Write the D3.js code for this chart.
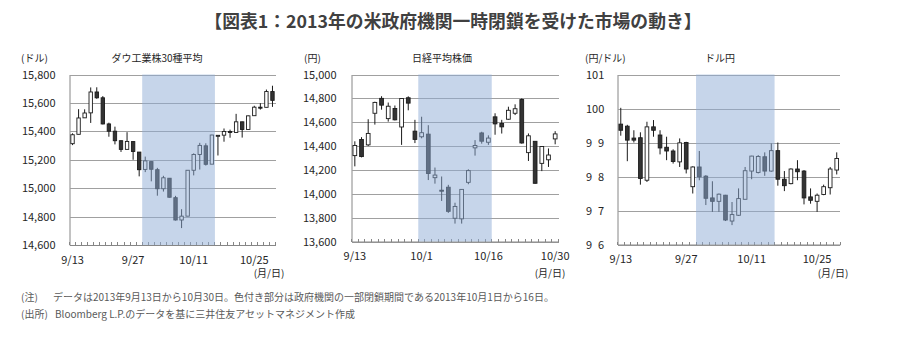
<!DOCTYPE html>
<html>
<head>
<meta charset="utf-8">
<script src="https://cdn.jsdelivr.net/npm/d3@7"></script>
<style>
  body { margin: 0; background: #fff; }
  text { font-family: "Noto Sans CJK JP", "Noto Sans", sans-serif; }
</style>
</head>
<body>
<svg id="chart" width="904" height="341"></svg>
<script>
// ---- Trading days ----
const usDates = ["9/13","9/16","9/17","9/18","9/19","9/20","9/23","9/24","9/25","9/26","9/27","9/30",
  "10/1","10/2","10/3","10/4","10/7","10/8","10/9","10/10","10/11","10/14","10/15","10/16","10/17","10/18",
  "10/21","10/22","10/23","10/24","10/25","10/28","10/29","10/30"];
const jpDates = ["9/13","9/17","9/18","9/19","9/20","9/24","9/25","9/26","9/27","9/30",
  "10/1","10/2","10/3","10/4","10/7","10/8","10/9","10/10","10/11","10/15","10/16","10/17","10/18",
  "10/21","10/22","10/23","10/24","10/25","10/28","10/29","10/30"];

// ---- Dow Jones Industrial Average (USD) ----
const dowOpen  = [15313,15379,15495,15530,15677,15636,15452,15401,15334,15273,15328,15254,15132,15187,15130,14996,15070,14933,14776,14803,15126,15237,15298,15169,15371,15373,15399,15392,15467,15413,15510,15570,15569,15680];
const dowHigh  = [15386,15556,15555,15709,15710,15648,15461,15433,15336,15394,15328,15254,15222,15187,15143,15087,15070,14946,14852,15126,15245,15319,15316,15376,15373,15420,15412,15523,15468,15511,15580,15598,15694,15721];
const dowLow   = [15303,15379,15494,15459,15629,15449,15362,15308,15255,15273,15200,15083,15113,15048,14947,14976,14934,14772,14719,14803,15090,15131,15159,15169,15230,15327,15355,15392,15356,15413,15510,15553,15569,15572];
const dowClose = [15376,15494,15529,15677,15636,15452,15401,15334,15273,15329,15258,15130,15192,15133,14996,15073,14936,14776,14803,15126,15237,15301,15168,15374,15372,15399,15392,15467,15413,15509,15570,15568,15680,15618];

// ---- Nikkei 225 (JPY) ----
const nkOpen  = [14320,14455,14410,14675,14800,14630,14715,14560,14805,14525,14478,14500,14135,14030,14055,13795,13790,14096,14385,14510,14432,14645,14590,14625,14675,14790,14345,14440,14255,14285,14460];
const nkHigh  = [14440,14475,14625,14772,14818,14765,14740,14800,14817,14620,14646,14575,14220,14145,14075,13925,14040,14205,14450,14520,14490,14675,14620,14730,14750,14800,14506,14440,14400,14380,14525];
const nkLow   = [14230,14305,14400,14580,14705,14605,14615,14410,14700,14425,14465,14115,14085,13940,13840,13750,13750,14080,14320,14420,14410,14495,14505,14620,14660,14420,14275,14085,14190,14225,14415];
const nkClose = [14405,14312,14506,14766,14743,14734,14620,14799,14760,14456,14512,14170,14157,14024,13853,13894,14037,14194,14405,14441,14467,14586,14561,14700,14713,14426,14486,14088,14396,14325,14502];

// ---- USD/JPY ----
const fxOpen  = [99.54,99.48,99.13,99.14,97.89,99.46,99.22,98.86,98.75,98.43,99.00,97.70,98.28,98.01,97.37,97.27,97.45,96.69,96.86,97.33,98.16,98.12,98.58,98.16,98.76,97.92,97.79,98.22,98.16,97.40,97.27,97.47,97.67,98.19];
const fxHigh  = [100.02,99.52,99.36,99.30,99.61,99.66,99.36,99.17,98.80,99.12,99.02,98.30,98.75,98.04,97.86,97.50,97.46,97.25,97.65,98.28,98.61,98.63,98.71,98.97,99.00,98.16,98.24,98.48,98.19,97.65,97.50,97.76,98.28,98.71];
const fxLow   = [99.20,98.45,99.00,97.76,97.84,99.17,98.65,98.48,98.38,98.28,98.09,97.50,97.89,97.16,96.96,96.96,96.69,96.57,96.84,97.33,97.92,98.09,98.02,98.14,97.73,97.57,97.77,97.89,97.18,97.20,96.96,97.45,97.47,98.06];
const fxClose = [99.36,99.07,99.07,97.94,99.46,99.36,98.84,98.75,98.44,98.99,98.22,98.28,97.99,97.36,97.27,97.48,96.72,96.88,97.35,98.17,98.60,98.59,98.16,98.76,97.92,97.73,98.22,98.14,97.37,97.30,97.45,97.70,98.22,98.53];

// ---- Axis ticks and labels ----
const dowTicks = [14600,14800,15000,15200,15400,15600,15800];
const nkTicks  = [13600,13800,14000,14200,14400,14600,14800,15000];
const fxTicks  = [96,97,98,99,100,101];
const usLabels = ["9/13","9/27","10/11","10/25"];
const jpLabels = ["9/13","10/1","10/16","10/30"];

// Government shutdown period
const shutdownStart = "10/1";
const shutdownEnd   = "10/16";

const titleText = "【図表1：2013年の米政府機関一時閉鎖を受けた市場の動き】";
const noteLabel = "(注)";
const noteText  = "データは2013年9月13日から10月30日。色付き部分は政府機関の一部閉鎖期間である2013年10月1日から16日。";
const srcLabel  = "(出所)";
const srcText   = "Bloomberg L.P.のデータを基に三井住友アセットマネジメント作成";

const svg = d3.select("#chart");
svg.append("rect").attr("width", 904).attr("height", 341).attr("fill", "#fff");

svg.append("text")
  .attr("x", 453).attr("y", 28)
  .attr("text-anchor", "middle")
  .attr("font-size", 17.8).attr("font-weight", "bold")
  .attr("fill", "#404040")
  .text(titleText);

const fmtComma = d3.format(",");

function drawPanel(p) {
  const g = svg.append("g");
  const x = d3.scaleBand().domain(p.dates).range([p.left, p.right]).paddingInner(0).paddingOuter(0);
  const y = d3.scaleLinear().domain(p.domain).range([p.bottom, p.top]);
  const step = x.step();
  const bw = step * 0.56;

  // y axis with gridlines
  const yAxis = d3.axisLeft(y)
    .tickValues(p.ticks)
    .tickSize(-(p.right - p.left))
    .tickSizeOuter(0)
    .tickPadding(p.yPad)
    .tickFormat(p.fmt);
  const ya = g.append("g").attr("transform", `translate(${p.left},0)`).call(yAxis);
  ya.select(".domain").attr("stroke", "#868686").attr("stroke-width", 1);
  ya.selectAll(".tick line").attr("stroke", "#a0a0a0").attr("stroke-width", 1)
    .attr("shape-rendering", "crispEdges");
  ya.selectAll(".tick text").attr("font-size", 11).attr("fill", "#262626");
  if (p.yTextStyle) p.yTextStyle(ya.selectAll(".tick text"));

  // x axis (labels only at selected dates)
  const xAxis = d3.axisBottom(x)
    .tickValues(p.labels)
    .tickSize(0)
    .tickSizeOuter(0)
    .tickPadding(11);
  const xa = g.append("g").attr("transform", `translate(0,${p.bottom})`).call(xAxis);
  xa.select(".domain").attr("stroke", "#868686").attr("stroke-width", 1);
  xa.selectAll(".tick text").attr("font-size", 11).attr("fill", "#262626");

  // minor day ticks on the category axis
  g.append("g").selectAll("line")
    .data(p.dates.concat(["__end"]))
    .join("line")
    .attr("x1", d => d === "__end" ? p.right : x(d))
    .attr("x2", d => d === "__end" ? p.right : x(d))
    .attr("y1", p.bottom).attr("y2", p.bottom - 3)
    .attr("stroke", "#868686").attr("stroke-width", 1)
    .attr("shape-rendering", "crispEdges");

  // candlesticks
  const rows = p.dates.map((d, i) => ({ d, o: p.open[i], h: p.high[i], l: p.low[i], c: p.close[i] }));
  const cg = g.append("g");
  cg.selectAll("line.wick").data(rows).join("line")
    .attr("class", "wick")
    .attr("x1", r => x(r.d) + step / 2).attr("x2", r => x(r.d) + step / 2)
    .attr("y1", r => y(r.h)).attr("y2", r => y(r.l))
    .attr("stroke", "#1a1a1a").attr("stroke-width", 1);
  cg.selectAll("rect.body").data(rows).join("rect")
    .attr("class", "body")
    .attr("x", r => x(r.d) + (step - bw) / 2)
    .attr("width", bw)
    .attr("y", r => y(Math.max(r.o, r.c)))
    .attr("height", r => Math.max(1, Math.abs(y(r.o) - y(r.c))))
    .attr("fill", r => r.c >= r.o ? "#ffffff" : "#333333")
    .attr("stroke", "#1a1a1a").attr("stroke-width", 0.9);

  // shutdown shading laid over the candles
  g.append("rect")
    .attr("x", x(shutdownStart))
    .attr("width", x(shutdownEnd) + step - x(shutdownStart))
    .attr("y", p.top).attr("height", p.bottom - p.top)
    .attr("fill", "#8eabd6").attr("fill-opacity", 0.5);

  // titles and units
  g.append("text").attr("x", p.titleX).attr("y", 62).attr("text-anchor", "middle")
    .attr("font-size", 10).attr("fill", "#262626").text(p.title);
  g.append("text").attr("x", p.unitX).attr("y", 62)
    .attr("font-size", 10).attr("fill", "#262626").text(p.unit);
  g.append("text").attr("x", p.mdX).attr("y", 277).attr("text-anchor", "middle")
    .attr("font-size", 10).attr("fill", "#262626").text("(月/日)");
}

drawPanel({
  dates: usDates, open: dowOpen, high: dowHigh, low: dowLow, close: dowClose,
  left: 69.5, right: 275.5, top: 74.5, bottom: 245,
  domain: [14600, 15800], ticks: dowTicks, fmt: fmtComma, yPad: 14,
  labels: usLabels, title: "ダウ工業株30種平均", titleX: 157,
  unit: "(ドル)", unitX: 21, mdX: 269
});

drawPanel({
  dates: jpDates, open: nkOpen, high: nkHigh, low: nkLow, close: nkClose,
  left: 351.5, right: 558.5, top: 74.5, bottom: 241.5,
  domain: [13600, 15000], ticks: nkTicks, fmt: fmtComma, yPad: 15,
  labels: jpLabels, title: "日経平均株価", titleX: 442,
  unit: "(円)", unitX: 304, mdX: 550
});

drawPanel({
  dates: usDates, open: fxOpen, high: fxHigh, low: fxLow, close: fxClose,
  left: 617.5, right: 840, top: 74.5, bottom: 244.5,
  domain: [96, 101], ticks: fxTicks, fmt: d3.format("d"), yPad: 14,
  labels: usLabels, title: "ドル円", titleX: 720,
  unit: "(円/ドル)", unitX: 585, mdX: 833,
  yTextStyle: sel => sel
    .attr("text-anchor", "start")
    .attr("x", 586 - 617.5)
    .attr("letter-spacing", d => d < 100 ? "6px" : "0px")
});

// notes
const notes = svg.append("g").attr("font-size", 10).attr("fill", "#595959");
notes.append("text").attr("x", 21).attr("y", 301).text(noteLabel);
notes.append("text").attr("x", 53).attr("y", 301).text(noteText);
notes.append("text").attr("x", 21).attr("y", 318).text(srcLabel);
notes.append("text").attr("x", 55).attr("y", 318).text(srcText);
</script>
</body>
</html>
